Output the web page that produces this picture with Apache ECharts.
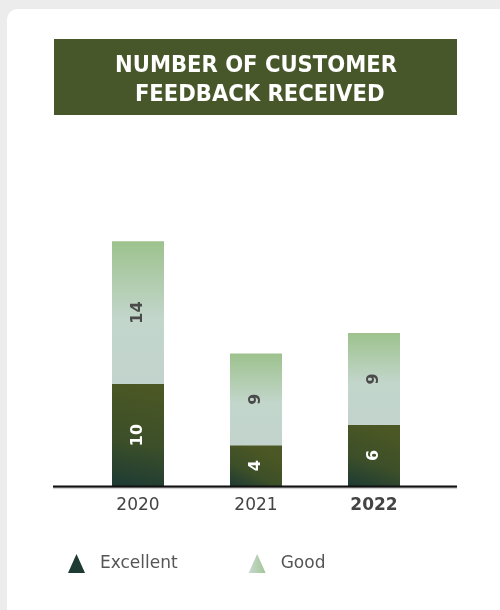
<!DOCTYPE html>
<html>
<head>
<meta charset="utf-8">
<script src="https://cdn.jsdelivr.net/npm/echarts@6/dist/echarts.min.js"></script>
<style>
  html, body { margin: 0; padding: 0; width: 500px; height: 610px; background: #ececec; overflow: hidden; }
  #card { position: absolute; left: 7px; top: 9px; width: 520px; height: 640px; background: #fff; border-radius: 11px; }
  #chart { position: absolute; left: 0; top: 0; width: 500px; height: 610px; }
</style>
</head>
<body>
<div id="card"></div>
<div id="chart"></div>
<script>
// Customer feedback counts per year
const years = ['2020', '2021', '2022'];
const excellent = [10, 4, 6];
const good = [14, 9, 9];
const seriesNames = ['Excellent', 'Good'];

const darkFill = new echarts.graphic.LinearGradient(0.4, 0, 0, 1, [
  { offset: 0, color: '#4b5724' },
  { offset: 0.55, color: '#3c4f29' },
  { offset: 1, color: '#1d3a34' }
]);
const lightFill = new echarts.graphic.LinearGradient(0, 0, 0, 1, [
  { offset: 0, color: '#9dc28d' },
  { offset: 0.55, color: '#c3d6cc' },
  { offset: 1, color: '#c1d3cc' }
]);
const legendLight = new echarts.graphic.LinearGradient(0, 0, 1, 0, [
  { offset: 0, color: '#c8d8d0' },
  { offset: 1, color: '#a3c694' }
]);

const chart = echarts.init(document.getElementById('chart'), null, { renderer: 'canvas' });

const labelBase = {
  show: true,
  position: 'inside',
  rotate: 90,
  fontFamily: 'DejaVu Sans',
  fontWeight: 'bold',
  fontSize: 16
};

chart.setOption({
  animation: false,
  graphic: [
    {
      type: 'rect',
      shape: { x: 54, y: 39, width: 403, height: 76 },
      style: { fill: '#47572a' }
    },
    {
      type: 'text',
      x: 256,
      y: 80,
      style: {
        text: 'NUMBER OF CUSTOMER\n FEEDBACK RECEIVED',
        fill: '#ffffff',
        font: 'bold 23.5px "DejaVu Sans Condensed", "DejaVu Sans"',
        textAlign: 'center',
        textVerticalAlign: 'middle',
        lineHeight: 29
      }
    },
    {
      type: 'line',
      shape: { x1: 53, y1: 486.5, x2: 457, y2: 486.5 },
      style: { stroke: '#111111', lineWidth: 2, shadowColor: 'rgba(0,0,0,0.35)', shadowOffsetY: 1, shadowBlur: 1 },
      z: 10
    }
  ],
  legend: {
    left: 63,
    top: 549,
    itemWidth: 17,
    itemHeight: 19,
    itemGap: 71,
    icon: 'triangle',
    textStyle: { color: '#555555', fontSize: 17, fontFamily: 'DejaVu Sans', padding: [0, 0, 0, 10] },
    data: [
      { name: seriesNames[0], itemStyle: { color: '#1e3b33' } },
      { name: seriesNames[1], itemStyle: { color: legendLight } }
    ]
  },
  grid: { left: 79, right: 67, top: 231, bottom: 124 },
  xAxis: {
    type: 'category',
    data: years,
    axisLine: { show: false },
    axisTick: { show: false },
    axisLabel: {
      margin: 11,
      color: '#444444',
      fontSize: 17,
      fontFamily: 'DejaVu Sans',
      formatter: function (v, i) { return i === years.length - 1 ? '{b|' + v + '}' : v; },
      rich: { b: { fontWeight: 'bold', fontSize: 17, color: '#444444', fontFamily: 'DejaVu Sans' } }
    }
  },
  yAxis: { type: 'value', min: 0, max: 25, show: false },
  series: [
    {
      name: seriesNames[0],
      type: 'bar',
      stack: 'total',
      barWidth: 52,
      data: excellent,
      itemStyle: { color: darkFill },
      label: Object.assign({}, labelBase, { color: '#ffffff' })
    },
    {
      name: seriesNames[1],
      type: 'bar',
      stack: 'total',
      barWidth: 52,
      data: good,
      itemStyle: { color: lightFill },
      label: Object.assign({}, labelBase, { color: '#4a4a4a' })
    }
  ]
});
</script>
</body>
</html>
